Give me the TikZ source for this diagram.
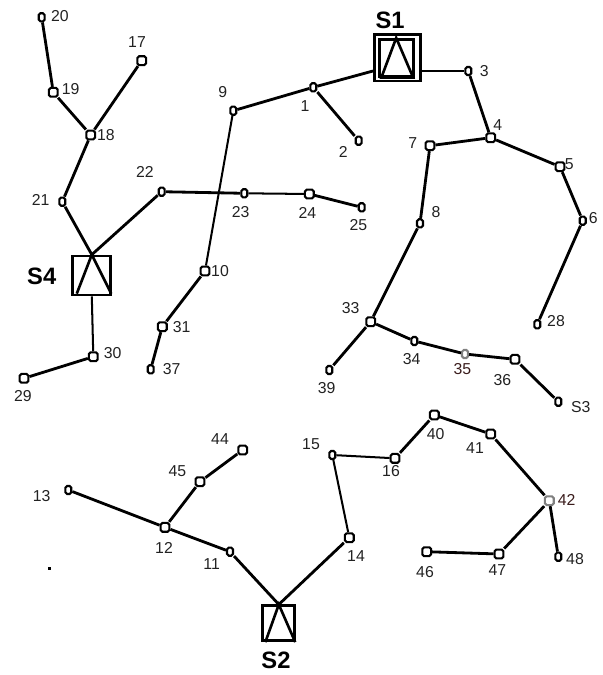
\documentclass[tikz,border=0pt]{standalone}
\usepackage{fontspec}
\setmainfont{Liberation Sans}
\usetikzlibrary{positioning}
\definecolor{labelgray}{HTML}{222222}
\definecolor{loadgray}{HTML}{808080}
\definecolor{labelbrown}{HTML}{3A1C1C}

\begin{document}
\begin{tikzpicture}[
  x=0.02cm, y=-0.02cm,
  line width=1.5pt,
  bus/.style={rectangle, draw, fill=white, rounded corners=1pt, line width=1.2pt, inner sep=0pt, minimum width=3.4pt, minimum height=4.6pt},
  busr/.style={bus, minimum width=5pt, minimum height=5pt},
  station/.style={rectangle, draw, line width=1.5pt, inner sep=0pt},
  lbl/.style={font=\fontsize{9}{10}\selectfont, text=labelgray, inner sep=0pt},
  sname/.style={font=\fontsize{13.5}{16}\selectfont\bfseries, inner sep=0pt},
  link/.style={draw, line width=1.6pt},
  thinlink/.style={draw, line width=1.15pt}
]
  \useasboundingbox (0,0) rectangle (602,675);

  % stations
  \node[station, minimum width=0.92cm, minimum height=0.93cm] (S1) at (397.3,57.7) {};
  \node[station, minimum width=0.68cm, minimum height=0.74cm] (S1in) at (396.2,57.7) {};
  \node[station, minimum width=0.76cm, minimum height=0.78cm] (S4) at (91.8,275.5) {};
  \node[station, minimum width=0.64cm, minimum height=0.70cm] (S2) at (278.8,623.3) {};
  \draw (S1in.north) -- ([xshift=2pt]S1in.south west) -- ([xshift=-0.8pt]S1in.south east) -- cycle;
  \draw ([xshift=3pt,yshift=1.5pt]S4.south west) -- (S4.north) -- ([xshift=-0.5pt,yshift=1.5pt]S4.south east);
  \draw ([xshift=2.2pt]S2.south west) -- (S2.north) -- ([xshift=-0.5pt]S2.south east);
  \node[sname] (s1name) at (390,20.5) {S1};
  \node[sname] (s4name) at (41.7,276.7) {S4};
  \node[sname] (s2name) at (276,660) {S2};

  % buses
  \node[bus] (n20) at (41.7,17.3) {};
  \node[busr] (n17) at (141.7,60.7) {};
  \node[busr] (n19) at (53.3,92.3) {};
  \node[busr] (n18) at (90.7,135) {};
  \node[bus] (n21) at (62.3,201.7) {};
  \node[bus] (n22) at (161.7,191.7) {};
  \node[bus] (n23) at (244.3,193.3) {};
  \node[busr] (n24) at (309.3,194) {};
  \node[bus] (n25) at (361.7,207.3) {};
  \node[bus] (n9) at (233.3,110.7) {};
  \node[bus] (n1) at (313.3,87.3) {};
  \node[bus] (n2) at (358.7,140.7) {};
  \node[bus] (n3) at (468.3,71) {};
  \node[busr] (n4) at (490.7,137.7) {};
  \node[busr] (n7) at (430,145.7) {};
  \node[busr] (n5) at (560,166.7) {};
  \node[bus] (n6) at (582.7,220.7) {};
  \node[bus] (n8) at (420,223.3) {};
  \node[bus] (n28) at (537.3,324.3) {};
  \node[busr] (n10) at (205,271) {};
  \node[busr] (n31) at (162.3,326.7) {};
  \node[bus] (n37) at (150.7,369.3) {};
  \node[busr] (n30) at (93.3,356.7) {};
  \node[busr] (n29) at (24,378.3) {};
  \node[busr] (n33) at (370.7,321.7) {};
  \node[bus] (n34) at (414.3,341) {};
  \node[bus, draw=loadgray] (n35) at (465,354) {};
  \node[busr] (n36) at (515,359.3) {};
  \node[bus] (nS3) at (558.3,401.7) {};
  \node[bus] (n39) at (329.3,370) {};
  \node[busr] (n44) at (242.7,450) {};
  \node[busr] (n45) at (200,481.7) {};
  \node[bus] (n13) at (68.3,490) {};
  \node[busr] (n12) at (165,527.3) {};
  \node[bus] (n11) at (230,551.7) {};
  \node[bus] (n15) at (332.3,455) {};
  \node[busr] (n16) at (395,458.3) {};
  \node[busr] (n40) at (434.3,415) {};
  \node[busr] (n41) at (490.7,434) {};
  \node[busr, draw=loadgray] (n42) at (549.3,500.7) {};
  \node[busr] (n14) at (349.3,537.7) {};
  \node[busr] (n46) at (426.7,551.7) {};
  \node[busr] (n47) at (499,554) {};
  \node[bus] (n48) at (558.3,556.7) {};
  \node[fill, inner sep=0pt, minimum size=1.5pt] (dot) at (49.3,568.3) {};

  % bus numbers
  \node[lbl] (t20) at (60,16) {20};
  \node[lbl] (t17) at (137,42) {17};
  \node[lbl] (t19) at (70.7,89) {19};
  \node[lbl] (t18) at (106,135) {18};
  \node[lbl] (t9) at (222.7,92.3) {9};
  \node[lbl] (t22) at (145,171.7) {22};
  \node[lbl] (t21) at (40.7,200) {21};
  \node[lbl] (t23) at (240.7,212.3) {23};
  \node[lbl] (t24) at (307.3,212.7) {24};
  \node[lbl] (t25) at (358.3,225) {25};
  \node[lbl] (t1) at (305,106) {1};
  \node[lbl] (t2) at (343.3,151.7) {2};
  \node[lbl] (t3) at (484.3,71) {3};
  \node[lbl] (t4) at (497.7,125) {4};
  \node[lbl] (t7) at (412.7,143.3) {7};
  \node[lbl] (t5) at (569.3,164.3) {5};
  \node[lbl] (t6) at (593.3,217.7) {6};
  \node[lbl] (t8) at (436,212.3) {8};
  \node[lbl] (t28) at (556,321) {28};
  \node[lbl] (t10) at (220,271) {10};
  \node[lbl] (t31) at (181.7,326.7) {31};
  \node[lbl] (t37) at (171.7,369.3) {37};
  \node[lbl] (t30) at (112.7,353.3) {30};
  \node[lbl] (t29) at (23,396) {29};
  \node[lbl] (t33) at (350.7,308.3) {33};
  \node[lbl] (t34) at (411.7,359.3) {34};
  \node[lbl, text=labelbrown] (t35) at (462.3,369.3) {35};
  \node[lbl] (t36) at (502.3,380) {36};
  \node[lbl] (tS3) at (580.7,406.7) {S3};
  \node[lbl] (t39) at (326.7,388.3) {39};
  \node[lbl] (t44) at (220,439.3) {44};
  \node[lbl] (t45) at (177.3,471) {45};
  \node[lbl] (t13) at (41.7,495.7) {13};
  \node[lbl] (t12) at (164,547.7) {12};
  \node[lbl] (t11) at (211.7,564) {11};
  \node[lbl] (t15) at (311,444.3) {15};
  \node[lbl] (t16) at (391,471) {16};
  \node[lbl] (t40) at (435.7,434.3) {40};
  \node[lbl] (t41) at (475,447.7) {41};
  \node[lbl, text=labelbrown] (t42) at (566.7,500) {42};
  \node[lbl] (t14) at (356,556) {14};
  \node[lbl] (t46) at (425,572.3) {46};
  \node[lbl] (t47) at (497.3,570) {47};
  \node[lbl] (t48) at (575,559.3) {48};

  % feeders from S1
  \draw[link] (S1.west |- n3) -- (n1);
  \draw[link] (n1) -- (n9);
  \draw[link] (n1) -- (n2);
  \draw[thinlink] (n9) -- (n10);
  \draw[link] (n10) -- (n31);
  \draw[link] (n31) -- (n37);
  \draw[link] (S1.east |- n3) -- (n3);
  \draw[link] (n3) -- (n4);
  \draw[link] (n4) -- (n7);
  \draw[link] (n4) -- (n5);
  \draw[link] (n5) -- (n6);
  \draw[link] (n6) -- (n28);
  \draw[link] (n7) -- (n8);
  \draw[link] (n8) -- (n33);
  \draw[link] (n33) -- (n39);
  \draw[link] (n33) -- (n34);
  \draw[link] (n34) -- (n35);
  \draw[link] (n35) -- (n36);
  \draw[link] (n36) -- (nS3);

  % feeders from S4
  \draw[link] (n20) -- (n19);
  \draw[link] (n19) -- (n18);
  \draw[link] (n18) -- (n17);
  \draw[link] (n18) -- (n21);
  \draw[link] (n21) -- (S4.north);
  \draw[link] (S4.north) -- (n22);
  \draw[link] (n22) -- (n23);
  \draw[thinlink] (n23) -- (n24);
  \draw[link] (n24) -- (n25);
  \draw[thinlink] (S4.south) -- (n30);
  \draw[link] (n30) -- (n29);

  % feeders from S2
  \draw[link] (S2.north) -- (n11);
  \draw[link] (n11) -- (n12);
  \draw[link] (n12) -- (n13);
  \draw[link] (n12) -- (n45);
  \draw[link] (n45) -- (n44);
  \draw[link] (S2.north) -- (n14);
  \draw[thinlink] (n14) -- (n15);
  \draw[thinlink] (n15) -- (n16);
  \draw[link] (n16) -- (n40);
  \draw[link] (n40) -- (n41);
  \draw[link] (n41) -- (n42);
  \draw[link] (n42) -- (n47);
  \draw[link] (n47) -- (n46);
  \draw[link] (n42) -- (n48);
\end{tikzpicture}
\end{document}
